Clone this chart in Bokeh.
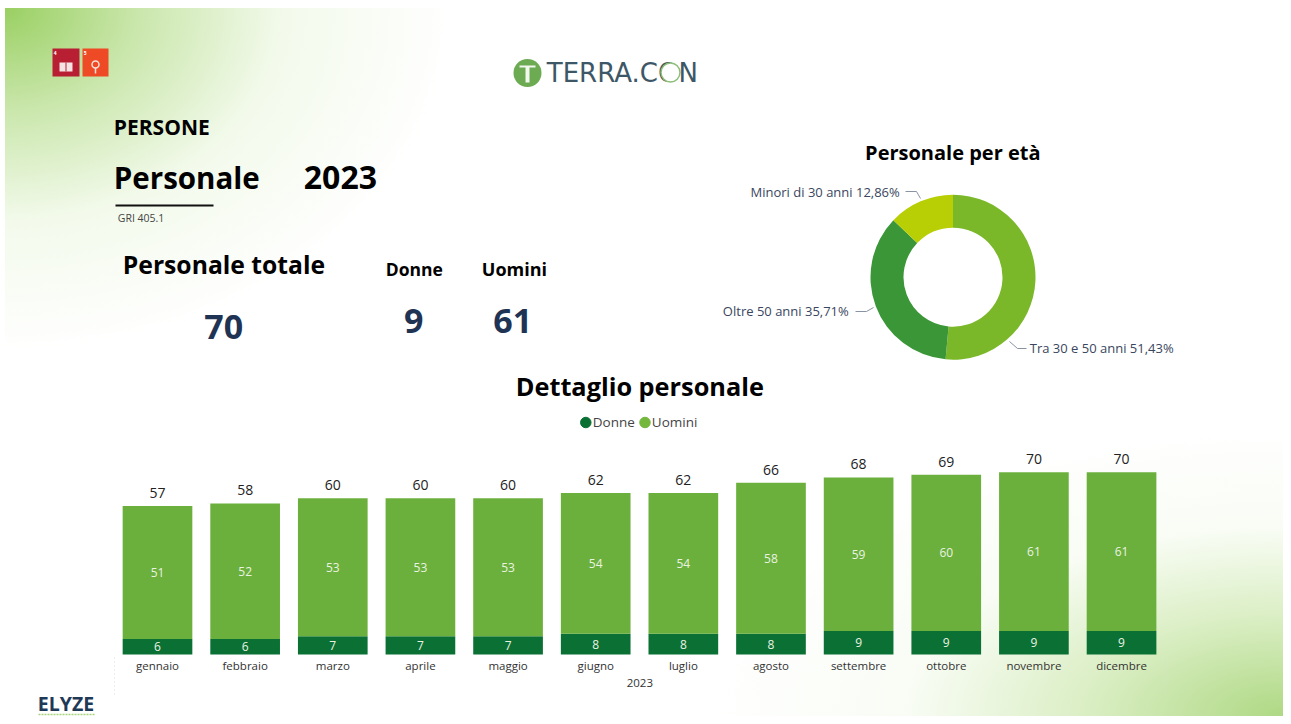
import math
from bokeh.embed import file_html
from bokeh.resources import INLINE
from bokeh.plotting import figure
from bokeh.models import (ColumnDataSource, FixedTicker, LinearAxis, Range1d)
from bokeh.core.properties import value

# ---- data ----
MONTHS = ["gennaio", "febbraio", "marzo", "aprile", "maggio", "giugno", "luglio",
          "agosto", "settembre", "ottobre", "novembre", "dicembre"]
DONNE = [6, 6, 7, 7, 7, 8, 8, 8, 9, 9, 9, 9]
UOMINI = [51, 52, 53, 53, 53, 54, 54, 58, 59, 60, 61, 61]
AGE_LABELS = ["Tra 30 e 50 anni", "Oltre 50 anni", "Minori di 30 anni"]
AGE_VALUES = [51.43, 35.71, 12.86]
AGE_COLORS = ["#7AB829", "#3A9637", "#B8CE05"]
YEAR = "2023"

# ---- layout (page pixels) ----
W, H = 1291, 724
FONT = value("Open Sans")
def X(px): return px
def Y(py): return H - py

C_DONNE, C_UOMINI = "#0B7034", "#6BB03C"
C_NAVY = "#1F3354"

BG = ("radial-gradient(ellipse 450px 345px at 0% 0%, rgba(148,205,90,.95) 0%, "
      "rgba(170,216,122,.62) 30%, rgba(215,238,190,.30) 62%, rgba(255,255,255,0) 100%), "
      "radial-gradient(ellipse 580px 290px at 100% 100%, rgba(160,210,110,.85) 0%, "
      "rgba(190,225,150,.55) 35%, rgba(230,245,215,.25) 65%, rgba(255,255,255,0) 100%)")

p = figure(width=W, height=H, output_backend="svg", toolbar_location=None,
           x_range=Range1d(0, W), y_range=Range1d(0, H),
           x_axis_type=None, y_axis_type=None, min_border=0,
           background_fill_color=None, border_fill_color=None, outline_line_color=None,
           styles={"background-color": "#ffffff", "background-image": BG,
                   "background-repeat": "no-repeat", "background-position": "5px 8px",
                   "background-size": "1278px 708px"})
p.grid.visible = False

# scales of the bar chart laid over the page
x0, step = 157.0, 87.64
base, unit = 654.0, 2.604
p.extra_x_ranges["m"] = Range1d((0 - x0) / step, (W - x0) / step)
p.extra_y_ranges["n"] = Range1d((base - H) / unit, base / unit)

idx = list(range(len(MONTHS)))
totals = [d + u for d, u in zip(DONNE, UOMINI)]
src = ColumnDataSource(dict(
    x=idx, d=DONNE, u=UOMINI, t=totals,
    dm=[d / 2 for d in DONNE],
    um=[d + u / 2 for d, u in zip(DONNE, UOMINI)],
    dl=[str(v) for v in DONNE], ul=[str(v) for v in UOMINI], tl=[str(v) for v in totals]))
rng = dict(x_range_name="m", y_range_name="n", source=src)
p.vbar(x="x", bottom=0, top="d", width=0.795, fill_color=C_DONNE, line_color=None, **rng)
p.vbar(x="x", bottom="d", top="t", width=0.795, fill_color=C_UOMINI, line_color=None, **rng)
for y, t in (("dm", "dl"), ("um", "ul")):
    p.text(x="x", y=y, text=t, text_color="#EAF3E2", text_font=FONT, text_font_size="12px",
           text_align="center", text_baseline="middle", **rng)
p.text(x="x", y="t", text="tl", text_color="#222222", text_font=FONT, text_font_size="14px",
       text_align="center", text_baseline="bottom", y_offset=-8, **rng)

axis = LinearAxis(x_range_name="m", y_range_name="n", fixed_location=0,
                  ticker=FixedTicker(ticks=idx),
                  major_label_overrides={i: m for i, m in enumerate(MONTHS)},
                  axis_line_color=None, major_tick_line_color=None, minor_tick_line_color=None,
                  major_tick_out=0, major_tick_in=0,
                  major_label_standoff=3, major_label_text_font="Open Sans",
                  major_label_text_font_size="11.5px", major_label_text_color="#333333")
p.add_layout(axis, "below")

def T(x, y, s, size, color="#000000", bold=False, align="left", font=FONT):
    p.text(x=[X(x - 0.7)], y=[Y(y - 1)], text=[s], text_font=font, text_font_size=f"{size}px",
           text_font_style="bold" if bold else "normal", text_color=color,
           text_align=align, text_baseline="middle")

# legend
p.scatter([X(585.3), X(644.5)], [Y(422), Y(422)], size=10.5, color=[C_DONNE, "#73B83C"])
T(593, 422.5, "Donne", 13.5, "#444444")
T(652, 422.5, "Uomini", 13.5, "#444444")

# donut
cx, cy, R, r = 952.5, 276.7, 82.5, 49.5
frac = [v / sum(AGE_VALUES) for v in AGE_VALUES]
start, end, c = [], [], 0.0
for f in frac:
    start.append(math.pi / 2 - 2 * math.pi * c)
    c += f
    end.append(math.pi / 2 - 2 * math.pi * c)
p.annular_wedge(x=[X(cx)] * 3, y=[Y(cy)] * 3, inner_radius=r, outer_radius=R,
                inner_radius_units="screen", outer_radius_units="screen",
                start_angle=start, end_angle=end, direction="clock",
                fill_color=AGE_COLORS, line_color=None)
age_txt = [f"{l} {v:.2f}%".replace(".", ",") for l, v in zip(AGE_LABELS, AGE_VALUES)]
T(1030, 348, age_txt[0], 13, "#3A4660")
T(849, 311, age_txt[1], 13, "#3A4660", align="right")
T(900, 192, age_txt[2], 13, "#3A4660", align="right")
for xs, ys in (([1009, 1017, 1026], [341, 348, 348]),
               ([855, 866, 873], [311, 311, 307]),
               ([905, 916, 920], [191, 191, 198])):
    p.line([X(a) for a in xs], [Y(b) for b in ys], line_color="#8A93A3", line_width=1)

# texts
T(114, 127, "PERSONE", 21, bold=True)
T(114, 178, "Personale", 29.5, bold=True)
T(304, 178, YEAR, 32, bold=True)
p.line([X(115), X(213)], [Y(205), Y(205)], line_color="#111111", line_width=2)
T(118, 218, "GRI 405.1", 10.5, "#444444")
T(123, 265, "Personale totale", 24.7, bold=True)
T(386, 269, "Donne", 17.5, bold=True)
T(482, 269, "Uomini", 18, bold=True)
T(224, 327, str(totals[-1]), 34, C_NAVY, True, "center")
T(414, 321, str(DONNE[-1]), 34, C_NAVY, True, "center")
T(513, 321, str(UOMINI[-1]), 34, C_NAVY, True, "center")
T(953, 153, "Personale per età", 20, bold=True, align="center")
T(640, 386, "Dettaglio personale", 25.3, bold=True, align="center")
T(640, 683, YEAR, 11.5, "#333333", align="center")

# faint dotted chart edges
for px in (114, 1165):
    p.line([X(px), X(px)], [Y(657), Y(695)], line_color="#D8DCD8", line_width=1, line_dash="1 3")

# SDG tiles
p.quad(left=[X(52), X(82)], right=[X(79), X(108)], top=[Y(48), Y(48)], bottom=[Y(76), Y(76)],
       fill_color=["#B81F33", "#EE4A26"], line_color=None)
T(54, 53, "4", 5, "#ffffff", True)
T(84, 53, "5", 5, "#ffffff", True)
p.quad(left=[X(59)], right=[X(72)], top=[Y(62)], bottom=[Y(71)], fill_color="#F4E4E4", line_color=None)
p.line([X(65.5), X(65.5)], [Y(62), Y(71)], line_color="#B81F33", line_width=1)
p.circle(x=[X(95)], y=[Y(64)], radius=3.5, radius_units="screen", fill_color=None,
         line_color="#FBE0D8", line_width=1.5)
p.line([X(95), X(95)], [Y(67), Y(73)], line_color="#FBE0D8", line_width=1.5)

# TERRA.CON logo
p.circle(x=[X(527)], y=[Y(72.5)], radius=14, radius_units="screen", fill_color="#6CAB52", line_color=None)
p.line([X(519), X(535)], [Y(66), Y(66)], line_color="#F2F8EE", line_width=2)
p.line([X(527), X(527)], [Y(66), Y(82)], line_color="#F2F8EE", line_width=4)
T(547, 73, "TERRA.CON", 26, "#3E5767", font=value("DejaVu Sans"))
p.circle(x=[X(670)], y=[Y(72)], radius=9.5, radius_units="screen", fill_color="#ffffff",
         line_color="#8DBF78", line_width=1.5)

# ELYZE logo
T(38, 704, "ELYZE", 19.5, "#1F3A57", True)
p.line([X(38), X(94)], [Y(714), Y(714)], line_color="#A9D27A", line_width=1.5, line_dash="2 1")

open("out.html", "w").write(file_html(p, INLINE))
